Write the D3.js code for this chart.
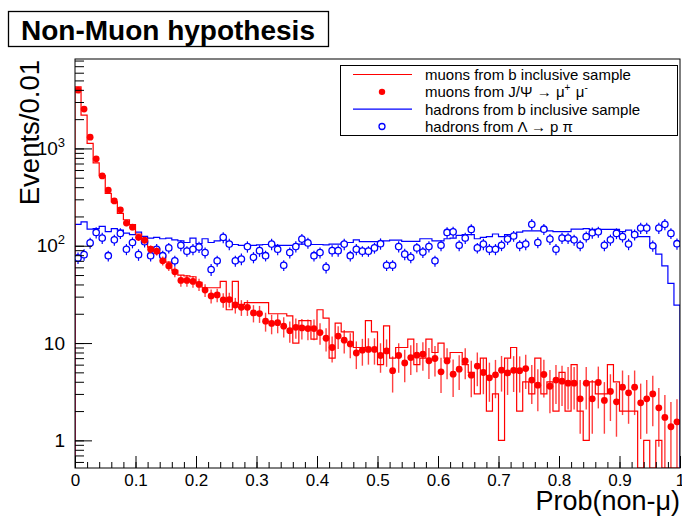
<!DOCTYPE html>
<html>
<head>
<meta charset="utf-8">
<script src="https://cdn.jsdelivr.net/npm/d3@7"></script>
<style>
  body { margin: 0; background: #fff; }
  svg { display: block; }
  text { font-family: "Liberation Sans", Arial, Helvetica, sans-serif; }
</style>
</head>
<body>
<svg id="chart" width="682" height="517"></svg>
<script>
// 100 bins of width 0.01 on Prob(non-mu) in [0, 1]
const nBins = 100;
const binWidth = 0.01;

// muons from b inclusive sample (histogram, counts per bin)
const muonIncl = [
  4300, 2200, 1125, 711, 526, 345, 282, 215, 185, 165,
  132, 118, 97, 93, 80, 68, 56, 50, 49, 48,
  42, 37, 37, 37, 43, 22, 43, 25, 26, 26,
  26, 26, 20, 20, 20, 19, 10, 17, 17, 11,
  22, 18, 7, 16, 13, 13, 9, 9, 17, 13,
  6, 15, 7, 9, 9, 11, 6, 7, 11, 8,
  10, 7, 8, 8, 6, 5, 3, 7, 2, 3,
  1, 7, 9, 2, 4, 3, 7, 3, 4, 2,
  5, 2, 6, 2, 1, 4, 3, 3, 6, 4,
  2, 2, 2, 0, 1, 0, 1, 0, 0, 0
];

// muons from J/Psi -> mu+ mu- (points with errors)
const muonJpsi = [
  3970, 2540, 1306, 782, 522, 373, 289, 234, 171, 155,
  122, 114, 92, 88, 70, 62, 54, 44, 44, 43,
  40, 35, 30.5, 31.2, 27.8, 28, 24.6, 23.3, 23.3, 20.4,
  20.1, 16.8, 15.9, 16.2, 14.9, 13.4, 14.5, 14.3, 14.1, 14.1,
  12.8, 11.2, 9.0, 11.8, 10.7, 9.8, 7.9, 8.45, 8.6, 8.6,
  7.45, 8.3, 5.2, 7.45, 6.25, 7.1, 7.5, 7.69, 6.58, 6.94,
  5.06, 6.55, 4.79, 5.39, 6.55, 4.68, 5.8, 4.98, 4.39, 4.71,
  5.27, 4.93, 5.24, 5.2, 5.47, 4.16, 3.69, 4.75, 3.6, 4.16,
  4.06, 3.87, 3.87, 2.67, 3.87, 2.67, 3.93, 2.57, 3.18, 2.49,
  3.52, 3.08, 3.52, 2.43, 2.67, 3.0, 2.16, 1.72, 1.38, 1.55
];
const muonJpsiErr = [
  57, 45, 32, 25, 20, 17, 15, 14, 12, 11,
  10, 9.6, 8.6, 8.4, 7.5, 7.1, 6.6, 6.0, 6.0, 5.9,
  5.7, 5.3, 5.0, 5.0, 4.7, 4.8, 4.5, 4.3, 4.3, 4.1,
  4.0, 3.7, 3.6, 3.6, 3.5, 3.3, 3.4, 3.4, 3.4, 3.4,
  3.2, 3.0, 2.7, 3.1, 2.9, 2.8, 2.5, 2.6, 2.6, 2.6,
  2.5, 2.6, 2.1, 2.5, 2.3, 2.4, 2.5, 2.5, 2.3, 2.4,
  2.0, 2.3, 2.0, 2.1, 2.3, 1.9, 2.2, 2.0, 1.9, 2.0,
  2.1, 2.0, 2.1, 2.1, 2.1, 1.8, 1.7, 2.0, 1.7, 1.8,
  1.8, 1.8, 1.8, 1.5, 1.8, 1.5, 1.8, 1.4, 1.6, 1.4,
  1.7, 1.6, 1.7, 1.4, 1.5, 1.6, 1.3, 1.2, 1.1, 1.1
];

// hadrons from b inclusive sample (histogram)
const hadronIncl = [
  166, 176, 148, 150, 158, 140, 150, 145, 135, 130,
  138, 125, 120, 122, 118, 120, 115, 112, 108, 120,
  105, 118, 108, 112, 115, 107, 103, 101, 101, 101,
  102, 103, 103, 101, 101, 101, 101, 104, 106, 103,
  103, 102, 104, 104, 108, 108, 115, 110, 110, 110,
  110, 112, 114, 114, 111, 111, 111, 118, 118, 112,
  112, 118, 120, 128, 130, 130, 118, 122, 124, 132,
  124, 130, 130, 138, 142, 142, 142, 148, 142, 140,
  140, 140, 148, 148, 150, 147, 147, 147, 147, 147,
  140, 145, 134, 124, 124, 101, 82, 62, 41, 24.5
];

// hadrons from Lambda -> p pi (open circles with errors)
const hadronLambda = [
  75, 81, 107, 137, 120, 79, 115, 134, 92, 108,
  81, 110, 79, 92, 79, 95, 70, 101, 88, 92,
  97, 85, 57, 70, 122, 104, 70, 73, 98, 76,
  89, 79, 104, 92, 63, 85, 98, 117, 107, 79,
  85, 60, 89, 89, 104, 79, 92, 88, 88, 95,
  105, 63, 63, 98, 82, 76, 95, 86, 98, 70,
  101, 137, 139, 101, 120, 147, 95, 104, 92, 92,
  101, 117, 126, 101, 104, 166, 108, 148, 117, 92,
  120, 120, 115, 101, 124, 136, 139, 101, 115, 134,
  124, 104, 130, 152, 152, 100, 152, 166, 134, 105
];
const hadronLambdaErr = [
  10, 11, 14, 18, 16, 10, 15, 17, 12, 14,
  11, 14, 10, 12, 10, 12, 9, 13, 11, 12,
  13, 11, 8, 9, 16, 14, 9, 10, 13, 10,
  12, 10, 14, 12, 8, 11, 13, 15, 14, 10,
  11, 8, 12, 12, 14, 10, 12, 11, 11, 12,
  14, 8, 8, 13, 11, 10, 12, 11, 13, 9,
  13, 18, 18, 13, 16, 19, 12, 14, 12, 12,
  13, 15, 16, 13, 14, 22, 14, 19, 15, 12,
  16, 16, 15, 13, 16, 18, 18, 13, 15, 17,
  16, 14, 17, 20, 20, 13, 20, 22, 17, 14
];

// axis settings
const xTickMajor = [0, 0.1, 0.2, 0.3, 0.4, 0.5, 0.6, 0.7, 0.8, 0.9, 1];
const xTickLabels = ["0", "0.1", "0.2", "0.3", "0.4", "0.5", "0.6", "0.7", "0.8", "0.9", "1"];
const yTickMajor = [1, 10, 100, 1000];
const yDomain = [0.52, 8300];

const legendEntries = [
  { label: "muons from b inclusive sample", kind: "line", color: "#ff0000" },
  { label: "muons from J/Ψ → μ<sup>+</sup> μ<sup>-</sup>", kind: "dot", color: "#ff0000" },
  { label: "hadrons from b inclusive sample", kind: "line", color: "#0000ff" },
  { label: "hadrons from Λ → p π", kind: "circle", color: "#0000ff" }
];

const svg = d3.select("#chart");
const frame = { left: 75, right: 680, top: 59, bottom: 468 };

const x = d3.scaleLinear().domain([0, 1]).range([frame.left, frame.right]);
const y = d3.scaleLog().domain(yDomain).range([frame.bottom, frame.top]);

const bins = d3.range(nBins).map(i => ({ lo: i * binWidth, hi: (i + 1) * binWidth, mid: (i + 0.5) * binWidth }));

svg.append("clipPath").attr("id", "plotclip")
  .append("rect")
  .attr("x", frame.left).attr("y", frame.top)
  .attr("width", frame.right - frame.left).attr("height", frame.bottom - frame.top);

const plot = svg.append("g").attr("clip-path", "url(#plotclip)");

// step outline of a histogram; empty bins drop to the frame bottom
function stepPoints(vals) {
  const floor = yDomain[0];
  const pts = [[0, floor]];
  bins.forEach((b, i) => {
    const v = Math.max(vals[i], floor);
    pts.push([b.lo, v], [b.hi, v]);
  });
  pts.push([1, floor]);
  return pts;
}
const stepLine = d3.line().x(d => x(d[0])).y(d => y(d[1]));

plot.append("path")
  .attr("d", stepLine(stepPoints(hadronIncl)))
  .attr("fill", "none").attr("stroke", "#0000ff").attr("stroke-width", 1.2);

plot.append("path")
  .attr("d", stepLine(stepPoints(muonIncl)))
  .attr("fill", "none").attr("stroke", "#ff0000").attr("stroke-width", 1.2);

// error bars + markers
function errY(v) { return y(Math.max(v, yDomain[0] * 0.5)); }

const lam = plot.append("g");
bins.forEach((b, i) => {
  const v = hadronLambda[i], e = hadronLambdaErr[i];
  lam.append("line")
    .attr("x1", x(b.mid)).attr("x2", x(b.mid))
    .attr("y1", errY(v + e)).attr("y2", errY(v - e))
    .attr("stroke", "#0000ff").attr("stroke-width", 1.2);
});
lam.selectAll("circle").data(bins).join("circle")
  .attr("cx", d => x(d.mid))
  .attr("cy", (d, i) => y(hadronLambda[i]))
  .attr("r", 3.2)
  .attr("fill", "#fff").attr("stroke", "#0000ff").attr("stroke-width", 1.3);

const jp = plot.append("g");
bins.forEach((b, i) => {
  const v = muonJpsi[i], e = muonJpsiErr[i];
  jp.append("line")
    .attr("x1", x(b.mid)).attr("x2", x(b.mid))
    .attr("y1", errY(v + e)).attr("y2", errY(v - e))
    .attr("stroke", "#ff0000").attr("stroke-opacity", 0.75).attr("stroke-width", 1.4);
});
jp.selectAll("circle").data(bins).join("circle")
  .attr("cx", d => x(d.mid))
  .attr("cy", (d, i) => y(muonJpsi[i]))
  .attr("r", 3.4)
  .attr("fill", "#ff0000");

// frame
svg.append("rect")
  .attr("x", frame.left).attr("y", frame.top)
  .attr("width", frame.right - frame.left).attr("height", frame.bottom - frame.top)
  .attr("fill", "none").attr("stroke", "#000").attr("stroke-width", 1);

// x axis: ticks point into the frame
const xMinor = d3.range(0, 51).map(i => i * 0.02);
const xAxisG = svg.append("g").attr("transform", `translate(0,${frame.bottom})`);
xAxisG.append("g").call(d3.axisTop(x).tickValues(xMinor).tickSize(6).tickFormat(""));
xAxisG.append("g").call(d3.axisTop(x).tickValues(xTickMajor).tickSize(12).tickFormat(""));
xAxisG.append("g")
  .call(d3.axisBottom(x).tickValues(xTickMajor).tickSize(0).tickPadding(6)
    .tickFormat((d, i) => xTickLabels[i]));
xAxisG.selectAll(".domain").remove();
xAxisG.selectAll("text").attr("font-size", 17).attr("fill", "#000")
  .attr("font-family", "Liberation Sans, Arial, sans-serif");

// y axis (log)
const yMinor = [];
[0.1, 1, 10, 100, 1000].forEach(dec => {
  for (let k = 1; k <= 9; k++) {
    const v = dec * k;
    if (v >= yDomain[0] && v <= yDomain[1]) yMinor.push(v);
  }
});
const yAxisG = svg.append("g").attr("transform", `translate(${frame.left},0)`);
yAxisG.append("g").call(d3.axisRight(y).tickValues(yMinor).tickSize(9).tickFormat(""));
yAxisG.append("g").call(d3.axisRight(y).tickValues(yTickMajor).tickSize(17).tickFormat(""));
const yLab = yAxisG.append("g")
  .call(d3.axisLeft(y).tickValues(yTickMajor).tickSize(0).tickPadding(10).tickFormat(""));
yAxisG.selectAll(".domain").remove();
yAxisG.selectAll("line").attr("stroke", "#000");
xAxisG.selectAll("line").attr("stroke", "#000");

yLab.selectAll(".tick text").each(function (d) {
  const t = d3.select(this).attr("font-size", 19).attr("fill", "#000")
    .attr("font-family", "Liberation Sans, Arial, sans-serif");
  const p = Math.round(Math.log10(d));
  if (p < 2) {
    t.text(String(d));
  } else {
    t.append("tspan").text("10");
    t.append("tspan").text(String(p)).attr("font-size", 13).attr("dy", -8);
  }
});

// axis titles
svg.append("text")
  .attr("transform", `translate(39,${frame.top + 1}) rotate(-90)`)
  .attr("text-anchor", "end")
  .attr("font-size", 27.5)
  .text("Events/0.01");

svg.append("text")
  .attr("x", frame.right).attr("y", 510)
  .attr("text-anchor", "end")
  .attr("font-size", 27)
  .text("Prob(non-μ)");

// title box
const title = svg.append("g");
title.append("rect")
  .attr("x", 8.5).attr("y", 11.5).attr("width", 320).attr("height", 35)
  .attr("fill", "#fff").attr("stroke", "#000").attr("stroke-width", 1.3);
title.append("text")
  .attr("x", 168).attr("y", 40)
  .attr("text-anchor", "middle")
  .attr("font-size", 28)
  .attr("font-weight", "bold")
  .text("Non-Muon hypothesis");

// legend
const leg = svg.append("g");
leg.append("rect")
  .attr("x", 340.5).attr("y", 65.5).attr("width", 337).attr("height", 70)
  .attr("fill", "#fff").attr("stroke", "#000").attr("stroke-width", 1);
const rowY = d3.scalePoint().domain(d3.range(legendEntries.length)).range([74.5, 126.5]);
legendEntries.forEach((e, i) => {
  const cy = rowY(i);
  if (e.kind === "line") {
    leg.append("line").attr("x1", 353).attr("x2", 412).attr("y1", cy).attr("y2", cy)
      .attr("stroke", e.color).attr("stroke-width", 1.2);
  } else if (e.kind === "dot") {
    leg.append("circle").attr("cx", 382).attr("cy", cy).attr("r", 3.2).attr("fill", e.color);
  } else {
    leg.append("circle").attr("cx", 382).attr("cy", cy).attr("r", 3)
      .attr("fill", "#fff").attr("stroke", e.color).attr("stroke-width", 1.3);
  }
  const t = leg.append("text").attr("x", 425).attr("y", cy + 5.5).attr("font-size", 15);
  // split out superscripts
  const parts = e.label.split(/(<sup>.*?<\/sup>)/);
  parts.forEach(p => {
    if (!p) return;
    const m = p.match(/<sup>(.*?)<\/sup>/);
    if (m) {
      t.append("tspan").text(m[1]).attr("font-size", 10).attr("dy", -6);
      t.append("tspan").text("\u200a").attr("dy", 6);
    } else {
      t.append("tspan").text(p);
    }
  });
});
</script>
</body>
</html>
